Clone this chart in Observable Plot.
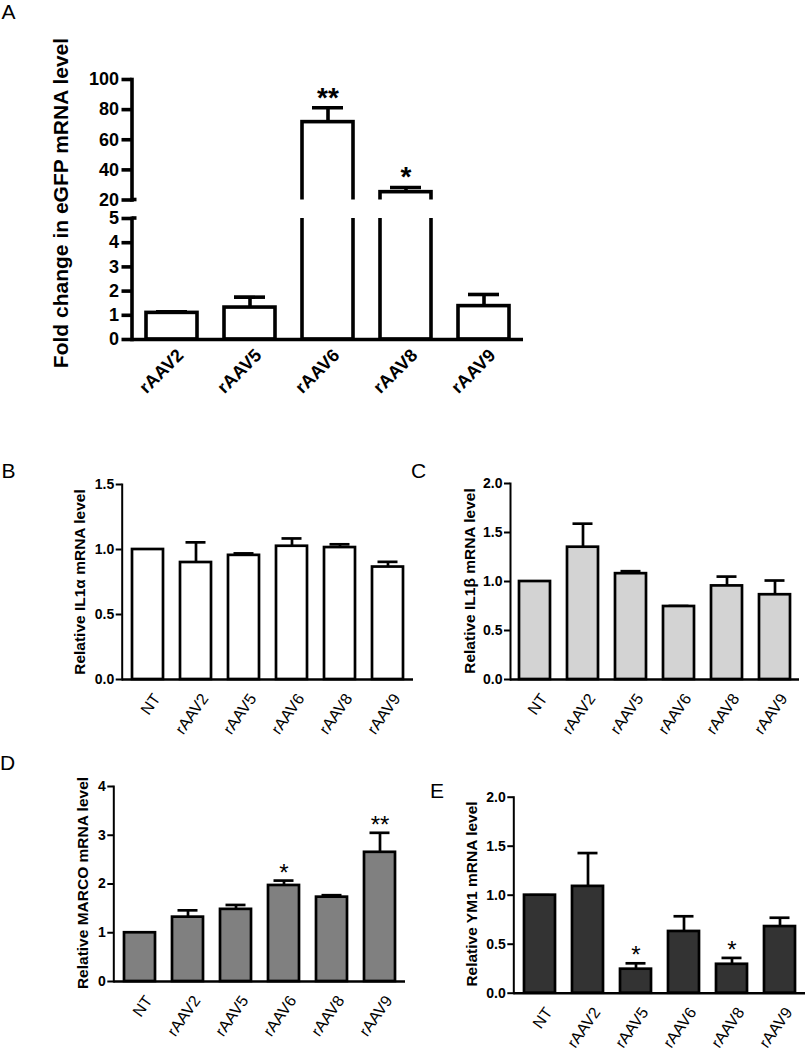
<!DOCTYPE html>
<html><head><meta charset="utf-8">
<script src="https://cdn.jsdelivr.net/npm/d3@7"></script>
<script src="https://cdn.jsdelivr.net/npm/@observablehq/plot@0.6"></script>
<style>
body{margin:0;background:#fff;}
#fig{position:relative;width:806px;height:1050px;overflow:hidden;font-family:"Liberation Sans",Arial,sans-serif;color:#000;background:#fff}
#fig svg{position:absolute}
.letter{position:absolute;font-size:21px;line-height:1;}
.ylab{position:absolute;font-weight:bold;white-space:nowrap;transform:translate(-50%,-50%) rotate(-90deg);line-height:1}
</style></head><body><div id="fig"></div>
<script>
// ---------- data ----------
const serotypesA = ["rAAV2", "rAAV5", "rAAV6", "rAAV8", "rAAV9"];
const eGFPMean  = [1.10, 1.32, 71.7, 25.2, 1.38];
const eGFPUpper = [1.14, 1.75, 81.2, 28.3, 1.86];
const eGFPStars = ["", "", "**", "*", ""];

const groups = ["NT", "rAAV2", "rAAV5", "rAAV6", "rAAV8", "rAAV9"];
const il1aMean  = [1.00, 0.90, 0.955, 1.025, 1.015, 0.865];
const il1aUpper = [1.00, 1.055, 0.97, 1.085, 1.04, 0.905];
const il1bMean  = [1.00, 1.35, 1.08, 0.745, 0.955, 0.865];
const il1bUpper = [1.00, 1.59, 1.105, 0.75, 1.05, 1.01];
const marcoMean  = [1.00, 1.32, 1.48, 1.97, 1.73, 2.65];
const marcoUpper = [1.00, 1.46, 1.57, 2.07, 1.77, 3.05];
const marcoStars = ["", "", "", "*", "", "**"];
const ym1Mean  = [1.00, 1.09, 0.245, 0.63, 0.295, 0.68];
const ym1Upper = [1.00, 1.43, 0.305, 0.785, 0.36, 0.77];
const ym1Stars = ["", "", "*", "", "*", ""];

const ticksAUpper = [20, 40, 60, 80, 100];
const ticksALower = [0, 1, 2, 3, 4, 5];
const ticksIL1a = [0, 0.5, 1.0, 1.5];
const ticksIL1b = [0, 0.5, 1.0, 1.5, 2.0];
const ticksMARCO = [0, 1, 2, 3, 4];
const ticksYM1 = [0, 0.5, 1.0, 1.5, 2.0];

// ---------- helpers ----------
const fig = document.getElementById("fig");
const fontFamily = '"Liberation Sans", Arial, sans-serif';
const rows = (cats, mean, upper, stars) =>
  cats.map((c, i) => ({cat: c, mean: mean[i], upper: upper[i], star: stars ? stars[i] : ""}));
function place(node, left, top) {
  node.style.left = left + "px";
  node.style.top = top + "px";
  fig.appendChild(node);
}
function addDiv(cls, text, left, top, extra) {
  const d = document.createElement("div");
  d.className = cls;
  d.textContent = text;
  d.style.left = left + "px";
  d.style.top = top + "px";
  if (extra) Object.assign(d.style, extra);
  fig.appendChild(d);
}
// small horizontal cap to the right of the axis at an axis break
const breakCap = (value, ext, sw) => (index, scales, values, dims) => {
  const y = scales.y(value);
  const x = dims.marginLeft;
  return d3.create("svg:line")
    .attr("x1", x).attr("x2", x + ext).attr("y1", y).attr("y2", y)
    .attr("stroke", "black").attr("stroke-width", sw).node();
};
const baseStyle = {fontFamily, background: "transparent", overflow: "visible", color: "black"};

// ---------- panel A ----------
const rowsA = rows(serotypesA, eGFPMean, eGFPUpper, eGFPStars);
const xA = () => ({type: "band", domain: serotypesA, paddingInner: 0.35, paddingOuter: 0.175, axis: null});
const SWA = 3.6;

const aUpper = Plot.plot({
  width: 560, height: 145, marginLeft: 131.5, marginRight: 37, marginTop: 19, marginBottom: 5.5,
  x: xA(), y: {domain: [20, 100], axis: null},
  style: baseStyle,
  marks: [
    Plot.ruleX(rowsA, {x: "cat", y1: "mean", y2: "upper", strokeWidth: SWA, clip: true}),
    Plot.tickY(rowsA, {x: "cat", y: "upper", strokeWidth: SWA, insetLeft: 10, insetRight: 10, clip: true}),
    Plot.barY(rowsA, {x: "cat", y1: 0, y2: "mean", fill: "white", stroke: "black", strokeWidth: SWA, clip: true}),
    Plot.text(rowsA.filter(d => d.star && d.upper > 20), {x: "cat", y: "upper", text: "star", lineAnchor: "bottom", dy: -1, fontSize: 28, fontWeight: "bold"}),
    Plot.frame({anchor: "left", strokeWidth: SWA}),
    Plot.axisY({ticks: ticksAUpper, tickSize: 10, tickPadding: 3, strokeWidth: SWA, fontSize: 18, fontWeight: "bold", label: null, tickFormat: d => d}),
    breakCap(20, 5, SWA)
  ]
});
place(aUpper, 0, 60);

const aLower = Plot.plot({
  width: 560, height: 210, marginLeft: 131.5, marginRight: 37, marginTop: 8, marginBottom: 81,
  x: xA(), y: {domain: [0, 5], axis: null},
  style: baseStyle,
  marks: [
    Plot.ruleX(rowsA, {x: "cat", y1: "mean", y2: "upper", strokeWidth: SWA, clip: true}),
    Plot.tickY(rowsA, {x: "cat", y: "upper", strokeWidth: SWA, insetLeft: 10, insetRight: 10, clip: true}),
    Plot.barY(rowsA, {x: "cat", y: "mean", fill: "white", stroke: "black", strokeWidth: SWA, clip: true}),
    Plot.ruleY([0], {strokeWidth: SWA}),
    Plot.frame({anchor: "left", strokeWidth: SWA}),
    Plot.axisY({ticks: ticksALower, tickSize: 10, tickPadding: 3, strokeWidth: SWA, fontSize: 18, fontWeight: "bold", label: null, tickFormat: d => d}),
    Plot.text(rowsA, {x: "cat", text: "cat", frameAnchor: "bottom", rotate: -45, textAnchor: "end", lineAnchor: "bottom", dx: 12.5, dy: 17, fontSize: 18, fontWeight: "bold"}),
    breakCap(5, 5, SWA)
  ]
});
place(aLower, 0, 210);

// ---------- panels B–E ----------
function smallPanel(o) {
  const data = rows(groups, o.mean, o.upper, o.stars);
  const SW = 2.7;
  const p = Plot.plot({
    width: o.width, height: o.height,
    marginLeft: o.mL, marginRight: o.mR, marginTop: o.mT, marginBottom: o.mB,
    x: {type: "band", domain: groups, paddingInner: 0.35, paddingOuter: 0.175, axis: null},
    y: {domain: o.yDomain, axis: null},
    style: baseStyle,
    marks: [
      Plot.ruleX(data, {x: "cat", y1: "mean", y2: "upper", strokeWidth: SW}),
      Plot.tickY(data, {x: "cat", y: "upper", strokeWidth: SW, insetLeft: 5.5, insetRight: 5.5}),
      Plot.barY(data, {x: "cat", y: "mean", fill: o.fill, stroke: "black", strokeWidth: SW}),
      Plot.text(data.filter(d => d.star), {x: "cat", y: "upper", text: "star", lineAnchor: "bottom", dy: 0, fontSize: 24}),
      Plot.ruleY([0], {strokeWidth: 2.4}),
      Plot.frame({anchor: "left", strokeWidth: 2}),
      Plot.axisY({ticks: o.ticks, tickSize: 6, tickPadding: 2, strokeWidth: 2, fontSize: 14, fontWeight: "bold", label: null, tickFormat: o.fmt}),
      Plot.text(data, {x: "cat", text: "cat", frameAnchor: "bottom", rotate: -55, textAnchor: "end", lineAnchor: "bottom", dx: 13, dy: 19, fontSize: 16})
    ]
  });
  place(p, o.left, o.top);
}
const f1 = d3.format(".1f");
const f0 = d3.format("d");

smallPanel({mean: il1aMean, upper: il1aUpper, fill: "white", yDomain: [0, 1.5], ticks: ticksIL1a, fmt: f1,
  left: 0, top: 460, width: 420, height: 300, mL: 121.7, mR: 7, mT: 24, mB: 81});
smallPanel({mean: il1bMean, upper: il1bUpper, fill: "#d3d3d3", yDomain: [0, 2], ticks: ticksIL1b, fmt: f1,
  left: 420, top: 460, width: 386, height: 300, mL: 90, mR: 7, mT: 23, mB: 81});
smallPanel({mean: marcoMean, upper: marcoUpper, stars: marcoStars, fill: "#808080", yDomain: [0, 4], ticks: ticksMARCO, fmt: f0,
  left: 0, top: 770, width: 420, height: 280, mL: 113.3, mR: 15, mT: 16, mB: 69});
smallPanel({mean: ym1Mean, upper: ym1Upper, stars: ym1Stars, fill: "#333333", yDomain: [0, 2], ticks: ticksYM1, fmt: f1,
  left: 420, top: 770, width: 386, height: 280, mL: 93.3, mR: 1, mT: 26.7, mB: 57.3});

// ---------- labels ----------
addDiv("letter", "A", 1.5, 1.3);
addDiv("letter", "B", 1.6, 460.3);
addDiv("letter", "C", 411, 460);
addDiv("letter", "D", 0, 752.3);
addDiv("letter", "E", 430, 780.3);

addDiv("ylab", "Fold change in eGFP mRNA level", 60, 202.5, {fontSize: "21px"});
addDiv("ylab", "Relative IL1α mRNA level", 80, 581.5, {fontSize: "15.5px"});
addDiv("ylab", "Relative IL1β mRNA level", 470, 581, {fontSize: "15.5px"});
addDiv("ylab", "Relative MARCO mRNA level", 83, 883, {fontSize: "15.5px"});
addDiv("ylab", "Relative YM1 mRNA level", 471.7, 894, {fontSize: "15.5px"});
</script></body></html>
